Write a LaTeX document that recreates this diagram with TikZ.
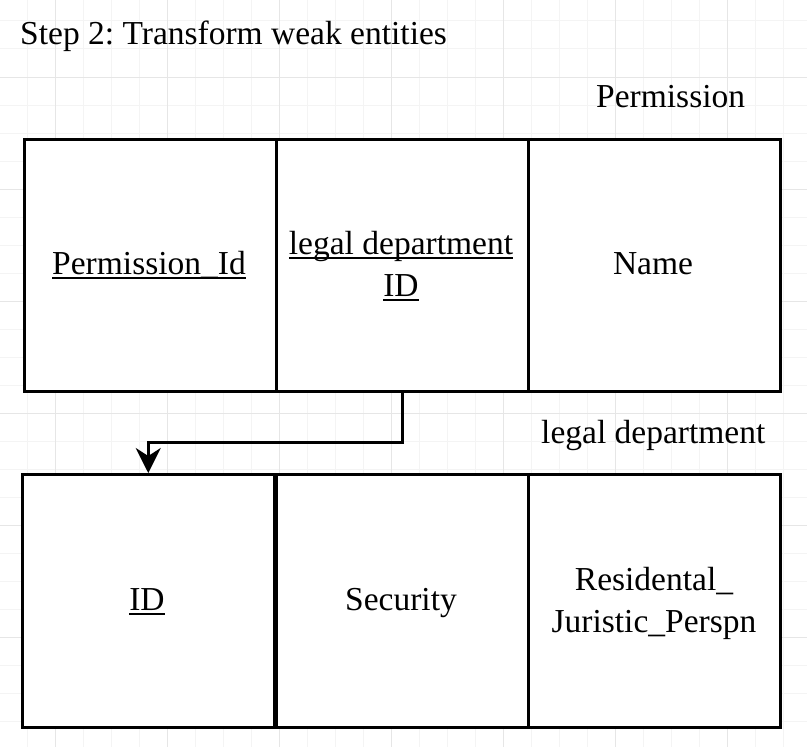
\documentclass[tikz,border=0pt]{standalone}
\usepackage{fontspec}
\setmainfont{Liberation Serif}
\frenchspacing
\usetikzlibrary{arrows.meta}
\definecolor{gridminor}{HTML}{F4F4F4}
\definecolor{gridmajor}{HTML}{E6E6E6}
\newcommand\ulined[1]{\setbox0\hbox{#1}\rlap{\rule[-5bp]{\wd0}{1.8bp}}\box0}
\tikzset{
  cell/.style={draw=black, line width=2.5bp, fill=white, minimum width=252bp, minimum height=252bp, inner sep=0pt, anchor=north west},
  txt/.style={font=\fontsize{33.5bp}{42bp}\selectfont, anchor=base, inner sep=0pt},
  ltxt/.style={txt, anchor=base west},
  fk/.style={draw=black, line width=2.5bp, -{Stealth[length=25bp,width=25bp,inset=8bp]}}
}
\begin{document}
\begin{tikzpicture}[x=1bp,y=-1bp]
\useasboundingbox (0,0) rectangle (807,747);
\fill[white] (0,0) rectangle (807,747);
% grid
\foreach \i in {-1,27,...,807} {\draw[gridminor, line width=1bp] (\i,0) -- (\i,747);}
\foreach \j in {21,49,...,747} {\draw[gridminor, line width=1bp] (0,\j) -- (807,\j);}
\foreach \i in {55,167,...,807} {\draw[gridmajor, line width=1bp] (\i,0) -- (\i,747);}
\foreach \j in {77,189,...,747} {\draw[gridmajor, line width=1bp] (0,\j) -- (807,\j);}
% title
\node[ltxt] (title) at (20,45) {Step 2: Transform weak entities};
% Permission table
\node[ltxt] (permlbl) at (596,107) {Permission};
\node[cell] (p1) at (23,138) {};
\node[cell] (p2) at (275,138) {};
\node[cell] (p3) at (527,138) {};
\node[txt] (p1t) at (149,274) {\ulined{Permission\_Id}};
\node[txt] (p2ta) at (401,254) {\ulined{legal department}};
\node[txt] (p2tb) at (401,296) {\ulined{ID}};
\node[txt] (p3t) at (653,274) {Name};
% legal department table
\node[ltxt] (ldlbl) at (541,443) {legal department};
\node[cell, minimum width=252bp, minimum height=253bp] (l1) at (21,473) {};
\node[cell, minimum height=253bp] (l2) at (275,473) {};
\node[cell, minimum height=253bp] (l3) at (527,473) {};
\node[txt] (l1t) at (147,610) {\ulined{ID}};
\node[txt] (l2t) at (401,610) {Security};
\node[txt] (l3ta) at (654,590) {Residental\_};
\node[txt] (l3tb) at (654,632) {Juristic\_Perspn};
% foreign key arrow
\draw[fk] (p2.south) -- ++(0,50) -| (l1.north);
\end{tikzpicture}
\end{document}
